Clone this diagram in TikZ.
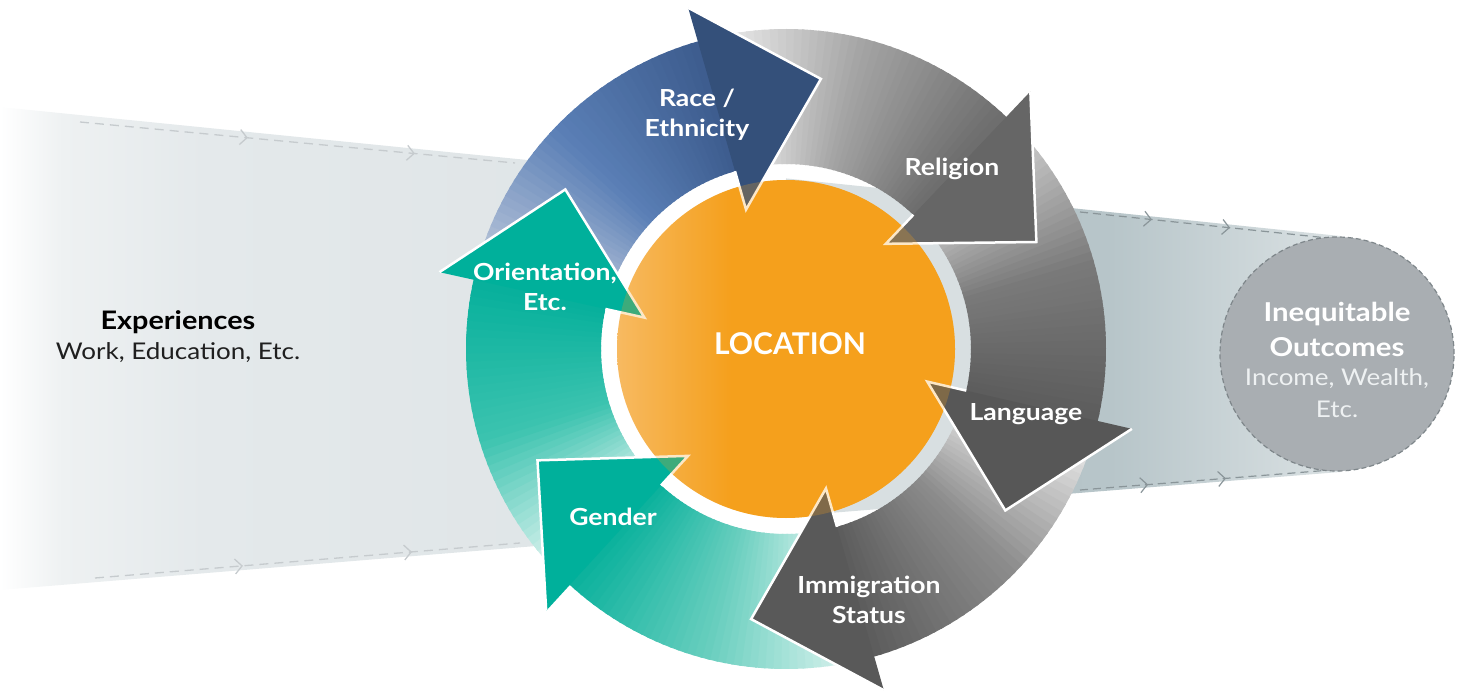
\documentclass[tikz,border=0pt]{standalone}
\usepackage{fontspec}
\setmainfont{Lato}[FakeStretch=1.13]
\newfontfamily\locfont{Lato}
\usetikzlibrary{arrows.meta,decorations.markings}

\definecolor{teal1}{HTML}{00B09B}
\definecolor{navy1}{HTML}{34507A}
\definecolor{orange1}{HTML}{F5A01C}
\definecolor{orangeL}{HTML}{F8C379}
\definecolor{lbA}{HTML}{EEF1F2}
\definecolor{lbB}{HTML}{E4E9EB}
\definecolor{lbC}{HTML}{DDE3E5}
\definecolor{rbA}{HTML}{B3C1C5}
\definecolor{rbB}{HTML}{B7C5C9}
\definecolor{rbC}{HTML}{DAE1E3}
\definecolor{dashL}{HTML}{C6CBCE}
\definecolor{dashR}{HTML}{8A9599}
\definecolor{outc}{HTML}{A9AEB2}
\definecolor{outcD}{HTML}{7E868A}
\definecolor{lightTxt}{HTML}{EEF1F2}
% shaft colours
\definecolor{bA}{HTML}{C3CDDD}\definecolor{bB}{HTML}{5A7FB6}\definecolor{bC}{HTML}{3D5C8E}
\definecolor{rA}{HTML}{F2F2F2}\definecolor{rB}{HTML}{A3A3A3}\definecolor{rC}{HTML}{6C6C6C}
\definecolor{lA}{HTML}{D8D8D8}\definecolor{lB}{HTML}{7A7A7A}\definecolor{lC}{HTML}{5C5C5C}
\definecolor{iA}{HTML}{F4F4F4}\definecolor{iB}{HTML}{8C8C8C}\definecolor{iC}{HTML}{5C5C5C}
\definecolor{gA}{HTML}{E6F6F3}\definecolor{gB}{HTML}{6ACFBF}\definecolor{gC}{HTML}{0AB19C}
\definecolor{oA}{HTML}{F0F9F7}\definecolor{oB}{HTML}{3CC3AF}\definecolor{oC}{HTML}{06B09B}
\definecolor{headRel}{HTML}{666666}
\definecolor{headLan}{HTML}{575757}
\definecolor{headImm}{HTML}{595959}

\pgfdeclarehorizontalshading{lband}{100bp}{color(0bp)=(white); color(25bp)=(white); color(29bp)=(lbA); color(38bp)=(lbB); color(75bp)=(lbC); color(100bp)=(lbC)}
\pgfdeclarehorizontalshading{rband}{100bp}{color(0bp)=(rbA); color(25bp)=(rbA); color(50bp)=(rbB); color(75bp)=(rbC); color(100bp)=(rbC)}
\pgfdeclarehorizontalshading{orsh}{100bp}{color(0bp)=(orangeL); color(25bp)=(orangeL); color(42bp)=(orange1); color(100bp)=(orange1)}

% shaft: start angle, end angle, colour at start, middle, end
\newcommand\ringshaft[5]{%
  \foreach \k in {0,...,39}{%
    \pgfmathsetmacro\angA{#1+(#2-#1)*\k/40}%
    \pgfmathsetmacro\angB{#1+(#2-#1)*(\k+1)/40-0.5}%
    \pgfmathtruncatemacro\firsthalf{\k<20}%
    \ifnum\firsthalf=1
      \pgfmathtruncatemacro\pp{(\k+0.5)*5}%
      \colorlet{segc}{#4!\pp!#3}%
    \else
      \pgfmathtruncatemacro\pp{(\k-19.5)*5}%
      \colorlet{segc}{#5!\pp!#4}%
    \fi
    \fill[segc] (\angA:320) arc[start angle=\angA,end angle=\angB,radius=320]
      -- (\angB:185) arc[start angle=\angB,end angle=\angA,radius=185] -- cycle;
  }}
% head: base angle, colour
\newcommand\ringhead[2]{%
  \fill[#2] (#1:355) -- ({250*cos(#1)+108*cos(#1-90)},{250*sin(#1)+108*sin(#1-90)}) -- (#1:145) -- cycle;
  \draw[white,line width=2.5,line join=miter,line cap=butt]
    (#1:355) -- ({250*cos(#1)+108*cos(#1-90)},{250*sin(#1)+108*sin(#1-90)}) -- (#1:145) -- (#1:185);
}

\begin{document}
\begin{tikzpicture}[x=1pt,y=1pt,
  lbl/.style={text=white,font=\fontsize{23.5}{30}\selectfont\bfseries,align=center,inner sep=0pt},
  dashleft/.style={draw=dashL,line width=1.3,dash pattern=on 9pt off 6pt},
  dashright/.style={draw=dashR,line width=1.2,dash pattern=on 8pt off 5pt}]
\useasboundingbox (0,0) rectangle (1462,697);

% background bands
\shade[shading=lband] (0,590) -- (786,511) -- (786,171.5) -- (0,107) -- cycle;
\shade[shading=rband] (880,508.8) -- (1340,461) -- (1340,225) -- (880,188) -- cycle;

% dashed flow lines
\coordinate (lt1) at (80,575);   \coordinate (lt2) at (515,534);
\coordinate (lb1) at (95,119);   \coordinate (lb2) at (520,154);
\coordinate (rt1) at (1080,485); \coordinate (rt2) at (1337,458);
\coordinate (rb1) at (1080,207); \coordinate (rb2) at (1337,227.5);
\draw[dashleft,postaction={decorate},decoration={markings,
  mark=at position 0.386 with {\arrow[dashL,solid,line width=1.3]{Straight Barb[length=7pt,width=15pt]}},
  mark=at position 0.77 with {\arrow[dashL,solid,line width=1.3]{Straight Barb[length=7pt,width=15pt]}}}] (lt1) -- (lt2);
\draw[dashleft,postaction={decorate},decoration={markings,
  mark=at position 0.348 with {\arrow[dashL,solid,line width=1.3]{Straight Barb[length=7pt,width=15pt]}},
  mark=at position 0.746 with {\arrow[dashL,solid,line width=1.3]{Straight Barb[length=7pt,width=15pt]}}}] (lb1) -- (lb2);
\draw[dashright,postaction={decorate},decoration={markings,
  mark=at position 0.28 with {\arrow[dashR,solid,line width=1.2]{Straight Barb[length=7pt,width=15pt]}},
  mark=at position 0.584 with {\arrow[dashR,solid,line width=1.2]{Straight Barb[length=7pt,width=15pt]}}}] (rt1) -- (rt2);
\draw[dashright,postaction={decorate},decoration={markings,
  mark=at position 0.265 with {\arrow[dashR,solid,line width=1.2]{Straight Barb[length=7pt,width=15pt]}},
  mark=at position 0.568 with {\arrow[dashR,solid,line width=1.2]{Straight Barb[length=7pt,width=15pt]}}}] (rb1) -- (rb2);

% outcome circle
\fill[outc] (1337,343) circle (117);
\draw[outcD,line width=1.2,dash pattern=on 5pt off 3pt] (1337,343) circle (117);

% the cycle
\fill[white] (786,348) circle (185);
\begin{scope}
  \clip (786,348) circle (185);
  \fill[rbA,fill opacity=0.5] (786,518.6) -- (1340,461) -- (1340,225) -- (786,180.5) -- cycle;
\end{scope}
\begin{scope}[shift={(786,348)}]
  \shade[shading=orsh] (0,0) circle (169);
  \ringshaft{166.5}{106}{bA}{bB}{bC}
  \ringshaft{104.5}{46.5}{rA}{rB}{rC}
  \ringshaft{45.5}{-13}{lA}{lB}{lC}
  \ringshaft{-14}{-74}{iA}{iB}{iC}
  \ringshaft{-75}{-132.5}{gA}{gB}{gC}
  \ringshaft{-133.5}{-192.5}{oA}{oB}{oC}
  \ringhead{106}{navy1}
  \ringhead{46.5}{headRel}
  \ringhead{-13}{headLan}
  \ringhead{-74}{headImm}
  \ringhead{-132.5}{teal1}
  \ringhead{167.5}{teal1}
  \fill[orange1,fill opacity=0.25] (0,0) circle (169);
\end{scope}

% labels
\node[lbl] (race) at (697,582) {Race /\\Ethnicity};
\node[lbl] (religion) at (952,528) {Religion};
\node[lbl] (orient) at (545,410) {Orientation,\\Etc.};
\node[lbl] (language) at (1026,283) {Language};
\node[lbl] (immig) at (869,97) {Immigration\\Status};
\node[lbl] (gender) at (613,180) {Gender};
\node[text=white,font=\locfont\fontsize{30}{34}\selectfont\bfseries,inner sep=0pt] (loc) at (790,353) {LOCATION};

\node[font=\fontsize{25.5}{28}\selectfont\bfseries,text=black,inner sep=0pt] (exp) at (178,375) {Experiences};
\node[font=\fontsize{23}{26}\selectfont,text=black!88,inner sep=0pt] (expsub) at (178,344) {Work, Education, Etc.};

\node[font=\fontsize{26}{29}\selectfont\bfseries,text=white,inner sep=0pt] (ineq1) at (1337,383) {Inequitable};
\node[font=\fontsize{26}{29}\selectfont\bfseries,text=white,inner sep=0pt] (ineq2) at (1337,350) {Outcomes};
\node[font=\fontsize{23}{26}\selectfont,text=lightTxt,inner sep=0pt] (ineq3) at (1337,318) {Income, Wealth,};
\node[font=\fontsize{23}{26}\selectfont,text=lightTxt,inner sep=0pt] (ineq4) at (1337,288) {Etc.};
\end{tikzpicture}
\end{document}
